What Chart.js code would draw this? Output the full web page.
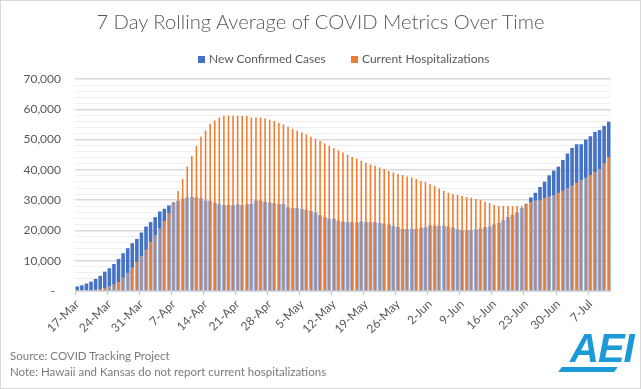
<!DOCTYPE html>
<html>
<head>
<meta charset="utf-8">
<script src="https://cdn.jsdelivr.net/npm/chart.js@4"></script>
<style>
  body{margin:0;background:#fff;}
  #wrap{position:relative;width:641px;height:389px;font-family:Lato,"Open Sans",sans-serif;color:#595959;}
  #frame{position:absolute;left:0;top:0;width:641px;height:389px;box-sizing:border-box;border:1px solid #d9d9d9;pointer-events:none;}
  canvas{position:absolute;left:0;top:0;}
  .title{position:absolute;left:0;width:641px;top:9px;text-align:center;font-size:20.2px;font-weight:300;}
  .leg{position:absolute;top:51px;font-size:12px;white-space:nowrap;}
  .sw{display:inline-block;width:7px;height:7px;margin-right:4px;vertical-align:0px;}
  .note{position:absolute;left:10px;font-size:11.5px;color:#7a7a7a;white-space:nowrap;}
  .aei{position:absolute;left:570px;top:326px;font-family:"Liberation Sans",Arial,sans-serif;font-weight:bold;font-style:italic;font-size:40px;color:#1b9ad7;letter-spacing:-1px;}
  .swoosh{position:absolute;left:560px;top:367px;width:56px;height:5px;background:#1b9ad7;transform:skewX(-35deg);}
</style>
</head>
<body>
<div id="wrap">
  <canvas id="chart" width="641" height="389"></canvas>
  <div class="title">7 Day Rolling Average of COVID Metrics Over Time</div>
  <div class="leg" style="left:198px"><span class="sw" style="background:#4472c4"></span>New Confirmed Cases</div>
  <div class="leg" style="left:351px"><span class="sw" style="background:#ed7d31"></span>Current Hospitalizations</div>
  <div class="note" style="top:349px">Source: COVID Tracking Project</div>
  <div class="note" style="top:365px">Note: Hawaii and Kansas do not report current hospitalizations</div>
  <div class="aei">AEI</div>
  <div class="swoosh"></div>
  <div id="frame"></div>
</div>
<script>
// one label per day, 17-Mar to 11-Jul
const dates = [
  '17-Mar','18-Mar','19-Mar','20-Mar','21-Mar','22-Mar','23-Mar','24-Mar','25-Mar','26-Mar','27-Mar','28-Mar','29-Mar','30-Mar','31-Mar',
  '1-Apr','2-Apr','3-Apr','4-Apr','5-Apr','6-Apr','7-Apr','8-Apr','9-Apr','10-Apr','11-Apr','12-Apr','13-Apr','14-Apr','15-Apr',
  '16-Apr','17-Apr','18-Apr','19-Apr','20-Apr','21-Apr','22-Apr','23-Apr','24-Apr','25-Apr','26-Apr','27-Apr','28-Apr','29-Apr','30-Apr',
  '1-May','2-May','3-May','4-May','5-May','6-May','7-May','8-May','9-May','10-May','11-May','12-May','13-May','14-May','15-May','16-May',
  '17-May','18-May','19-May','20-May','21-May','22-May','23-May','24-May','25-May','26-May','27-May','28-May','29-May','30-May','31-May',
  '1-Jun','2-Jun','3-Jun','4-Jun','5-Jun','6-Jun','7-Jun','8-Jun','9-Jun','10-Jun','11-Jun','12-Jun','13-Jun','14-Jun','15-Jun',
  '16-Jun','17-Jun','18-Jun','19-Jun','20-Jun','21-Jun','22-Jun','23-Jun','24-Jun','25-Jun','26-Jun','27-Jun','28-Jun','29-Jun','30-Jun',
  '1-Jul','2-Jul','3-Jul','4-Jul','5-Jul','6-Jul','7-Jul','8-Jul','9-Jul','10-Jul','11-Jul'
];

const newCases = [
  1500,1850,2450,3100,4000,5000,6400,7500,8900,10550,12470,14130,15780,17220,19320,
  21300,22740,24390,26270,27150,28260,29250,29800,30570,30900,31020,30900,30600,29850,29800,
  29250,28700,28370,28370,28370,28590,28370,28700,28810,29910,29910,29470,29250,29030,28700,
  28700,27590,27370,27370,27100,26800,26450,25900,25060,24450,23840,23840,23290,22900,22740,22700,
  22700,22960,22740,22740,22740,22450,22250,22000,21450,21150,20530,20420,20530,20530,20860,
  21000,21630,21630,21520,21520,21300,20970,20420,20090,20090,20090,20310,20640,21080,21300,
  21960,22520,23400,24390,25170,25940,27370,28810,30900,32450,34330,36090,38190,39740,41060,
  43270,45360,47240,48450,48450,49990,51100,52540,53200,54530,55850
];

const hospitalized = [
  100,150,250,380,550,770,1100,1660,2320,3090,4530,6070,7840,9710,11590,
  13800,16230,18540,20750,23180,25940,29580,33110,36980,41170,44600,47900,51000,53090,55300,
  56400,57390,57840,57950,57950,57950,57840,57840,57390,57390,57390,57060,56620,56180,55520,
  55080,54300,53640,52980,52430,51770,51000,50220,49560,48790,48010,47240,46470,45810,45030,44370,
  43710,43050,42380,41830,41280,40840,40290,39740,39180,38740,38300,37860,37530,37000,36310,
  35980,35320,34770,33890,33220,32560,32120,31790,31460,31010,30900,30350,30020,29580,29030,
  28480,28150,28040,28040,28040,28040,28040,28800,29400,29950,30200,30700,31300,31800,32550,
  33150,34000,34880,35800,36700,37480,38350,39400,40290,42270,44260
];

const yMax = 70000;
const yMajor = 10000;
const yMinor = 2000;
const labelEvery = 7;

const axisFont = { family: 'Lato', size: 12 };
const textColor = '#595959';

new Chart(document.getElementById('chart'), {
  type: 'bar',
  data: {
    labels: dates,
    datasets: [
      {
        label: 'New Confirmed Cases',
        data: newCases,
        backgroundColor: '#4472c4',
        barPercentage: 0.78,
        categoryPercentage: 1,
        grouped: false,
        order: 2
      },
      {
        label: 'Current Hospitalizations',
        data: hospitalized,
        backgroundColor: '#ed7d31',
        // translucent white edges lighten the blue bar behind it
        borderColor: 'rgba(255,255,255,0.5)',
        borderWidth: { left: 1, right: 1, top: 0, bottom: 0 },
        barPercentage: 0.78,
        categoryPercentage: 1,
        grouped: false,
        order: 1
      }
    ]
  },
  options: {
    responsive: false,
    animation: false,
    layout: { padding: { top: 79, right: 30, left: 0, bottom: 0 } },
    plugins: {
      legend: { display: false },
      title: { display: false },
      tooltip: { enabled: false }
    },
    scales: {
      x: {
        offset: true,
        grid: {
          offset: true,
          drawOnChartArea: false,
          tickLength: 4,
          color: ctx => (ctx.index % labelEvery === 0 ? '#bfbfbf' : 'rgba(0,0,0,0)')
        },
        border: { color: '#d9d9d9' },
        ticks: {
          autoSkip: false,
          minRotation: 45,
          maxRotation: 45,
          padding: 2,
          font: axisFont,
          color: textColor,
          callback: (v, i) => (i % labelEvery === 0 ? dates[i] : '')
        },
        afterFit: s => { s.height = 98; }
      },
      y: {
        min: 0,
        max: yMax,
        ticks: {
          stepSize: yMinor,
          autoSkip: false,
          padding: 14,
          font: axisFont,
          color: textColor,
          callback: v => {
            if (v % yMajor !== 0) return '';
            return v === 0 ? '-  ' : v.toLocaleString('en-US');
          }
        },
        grid: {
          drawTicks: false,
          color: ctx => (ctx.tick && ctx.tick.value % yMajor === 0 ? '#d9d9d9' : '#efefef'),
          lineWidth: ctx => (ctx.tick && ctx.tick.value % yMajor === 0 ? 1.5 : 1)
        },
        border: { display: false },
        afterFit: s => { s.width = 75; }
      }
    }
  }
});
</script>
</body>
</html>
